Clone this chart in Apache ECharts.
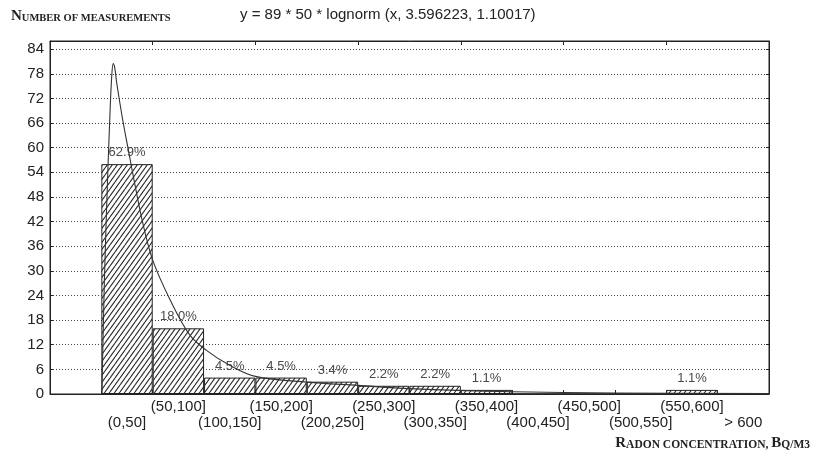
<!DOCTYPE html>
<html>
<head>
<meta charset="utf-8">
<script src="https://cdn.jsdelivr.net/npm/echarts@6/dist/echarts.min.js"></script>
<style>
  html, body { margin: 0; padding: 0; background: #fff; }
  #chart { width: 817px; height: 458px; }
</style>
</head>
<body>
<div id="chart"></div>
<script>
// Histogram categories (first slot is an empty spacer before (0,50])
const categories = ['', '(0,50]', '(50,100]', '(100,150]', '(150,200]', '(200,250]',
  '(250,300]', '(300,350]', '(350,400]', '(400,450]', '(450,500]', '(500,550]',
  '(550,600]', '> 600'];
// Number of measurements per concentration interval
const counts = [null, 56, 16, 4, 4, 3, 2, 2, 1, 0, 0, 0, 1, 0];
// Fitted lognormal curve, concentration (Bq/m3) and expected count
const fitX = [0.5, 3, 6, 8.5, 10, 11.5, 13, 15, 21, 27, 30, 40, 50, 67, 86, 102, 125, 150,
  200, 250, 300, 400, 500, 650];
const fitY = [0, 28, 52, 69, 77, 80.5, 79.5, 75.7, 66.5, 58.5, 54.5, 42, 32.6, 22.9, 14.4,
  10.7, 7, 4.3, 2.9, 2.1, 1.3, 0.55, 0.25, 0.08];
// Y axis tick values
const yTicks = [0, 6, 12, 18, 24, 30, 36, 42, 48, 54, 60, 66, 72, 78, 84];

const total = counts.reduce((s, v) => s + (v || 0), 0);

// Diagonal hatch tile for the bars
function hatchPattern() {
  const w = 5, h = 7;
  const c = document.createElement('canvas');
  c.width = w; c.height = h;
  const ctx = c.getContext('2d');
  ctx.fillStyle = '#ffffff';
  ctx.fillRect(0, 0, w, h);
  ctx.strokeStyle = '#2a2a2a';
  ctx.lineWidth = 1.1;
  ctx.beginPath();
  for (let k = -1; k <= 1; k++) {
    ctx.moveTo(k * w, h);
    ctx.lineTo(k * w + w, 0);
  }
  ctx.stroke();
  return c;
}

const chart = echarts.init(document.getElementById('chart'), null, { renderer: 'canvas' });

const serif = '"Liberation Serif", "DejaVu Serif", serif';
const sans = '"Liberation Sans", Arial, sans-serif';

const option = {
  backgroundColor: '#ffffff',
  animation: false,
  title: [
    {
      text: '{a|N}{b|UMBER OF MEASUREMENTS}',
      left: 11, top: 6, padding: 0,
      textStyle: {
        rich: {
          a: { fontFamily: serif, fontSize: 15, fontWeight: 'bold', color: '#222', verticalAlign: 'bottom', lineHeight: 18 },
          b: { fontFamily: serif, fontSize: 10.5, fontWeight: 'bold', color: '#222', verticalAlign: 'bottom', lineHeight: 18 }
        }
      }
    },
    {
      text: 'y = 89 * 50 * lognorm (x, 3.596223, 1.10017)',
      left: 240, top: 7, padding: 0,
      textStyle: { fontFamily: sans, fontSize: 15, fontWeight: 'normal', color: '#222' }
    },
    {
      text: '{a|R}{b|ADON CONCENTRATION, }{a|B}{b|Q/M3}',
      right: 7, top: 433, padding: 0,
      textStyle: {
        rich: {
          a: { fontFamily: serif, fontSize: 15, color: '#222', verticalAlign: 'bottom', lineHeight: 18 },
          b: { fontFamily: serif, fontSize: 11.5, color: '#222', verticalAlign: 'bottom', lineHeight: 18 }
        }
      }
    }
  ],
  grid: {
    left: 50, right: 48, top: 41, bottom: 64,
    show: true, borderColor: '#222', borderWidth: 1, backgroundColor: 'transparent'
  },
  xAxis: [
    {
      type: 'category', data: categories, position: 'bottom',
      boundaryGap: true,
      axisLine: { show: true, onZero: false, lineStyle: { color: '#222', width: 1 } },
      axisTick: { show: true, inside: true, length: 4, lineStyle: { color: '#222' } },
      axisLabel: {
        interval: 0, margin: 5, fontFamily: sans, fontSize: 15, color: '#222', lineHeight: 16,
        formatter: (v, i) => (i % 2 === 1 ? '\n' + v : v)
      },
      splitLine: { show: false }
    },
    {
      type: 'category', data: categories, position: 'top',
      boundaryGap: true,
      axisLine: { show: true, onZero: false, lineStyle: { color: '#222', width: 1 } },
      axisTick: { show: true, inside: true, length: 4, lineStyle: { color: '#222' } },
      axisLabel: { show: false },
      splitLine: { show: false }
    },
    {
      type: 'value', min: -50, max: 650, show: false,
      axisLine: { onZero: false }
    }
  ],
  yAxis: [
    {
      type: 'value', min: yTicks[0], max: 86, interval: 6, position: 'left',
      axisLine: { show: true, onZero: false, lineStyle: { color: '#222' } },
      axisTick: { show: true, inside: true, length: 3, lineStyle: { color: '#222' } },
      axisLabel: {
        margin: 6, fontFamily: sans, fontSize: 15, color: '#222', showMaxLabel: false,
        formatter: v => (yTicks.indexOf(v) >= 0 ? String(v) : '')
      },
      splitLine: { show: true, lineStyle: { color: '#444', width: 1, type: [1, 2] } }
    },
    {
      type: 'value', min: yTicks[0], max: 86, interval: 6, position: 'right',
      axisLine: { show: true, onZero: false, lineStyle: { color: '#222' } },
      axisTick: { show: true, inside: true, length: 3, lineStyle: { color: '#222' } },
      axisLabel: { show: false },
      splitLine: { show: false }
    }
  ],
  series: [
    {
      name: 'Measurements',
      type: 'bar',
      xAxisIndex: 0, yAxisIndex: 0,
      data: counts,
      barCategoryGap: '0%',
      itemStyle: {
        color: { image: hatchPattern(), repeat: 'repeat' },
        borderColor: '#222', borderWidth: 1
      },
      label: {
        show: true, position: 'top', distance: 5,
        fontFamily: sans, fontSize: 13, color: '#4a4a4a',
        formatter: p => (p.value > 0 ? (p.value / total * 100).toFixed(1) + '%' : '')
      },
      z: 2
    },
    {
      name: 'Lognormal fit',
      type: 'line',
      xAxisIndex: 2, yAxisIndex: 0,
      data: fitX.map((x, i) => [x, fitY[i]]),
      showSymbol: false,
      smooth: 0.35,
      lineStyle: { color: '#333', width: 1.1 },
      z: 3
    }
  ]
};

chart.setOption(option);
</script>
</body>
</html>
